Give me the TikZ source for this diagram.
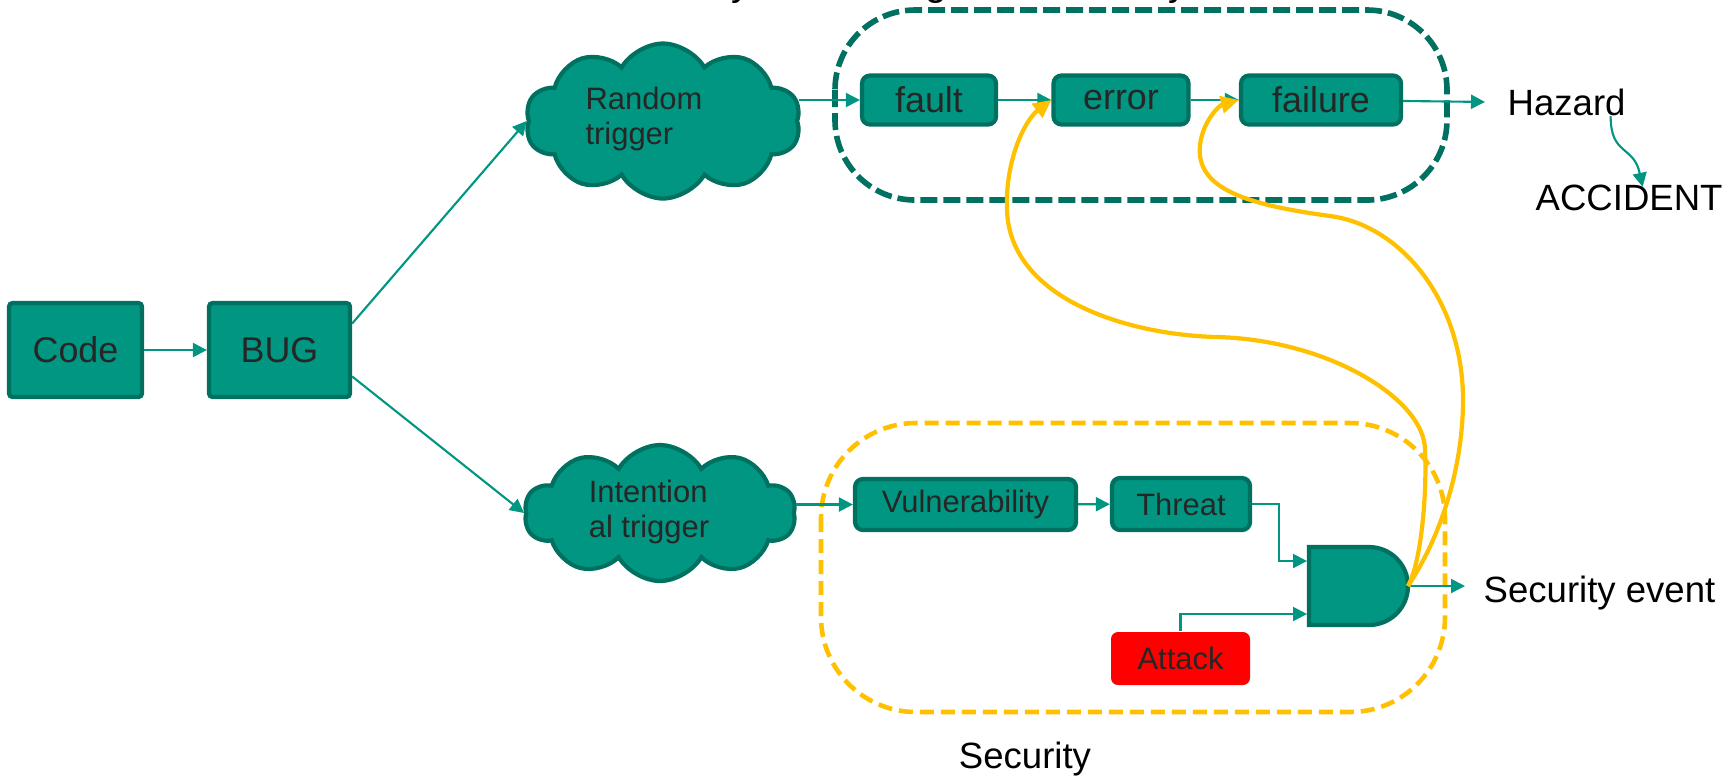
\documentclass[tikz,border=0pt]{standalone}
\usepackage{fontspec}
\setmainfont{Liberation Sans}
\usetikzlibrary{arrows.meta,shapes.symbols,positioning}
\definecolor{tealfill}{RGB}{0,150,130}
\definecolor{tealedge}{RGB}{0,112,96}
\definecolor{boxtext}{RGB}{38,38,38}
\definecolor{amber}{RGB}{255,192,0}
\begin{document}
\begin{tikzpicture}[
    blockbox/.style={draw=tealedge, fill=tealfill, line width=1.2pt, rounded corners=1pt, inner sep=0pt, text=boxtext, font=\fontsize{10.2}{12}\selectfont},
    chainbox/.style={draw=tealedge, fill=tealfill, line width=1.2pt, rounded corners=0.08cm, inner sep=0pt, text=boxtext, font=\fontsize{10.2}{12}\selectfont},
    secbox/.style={draw=tealedge, fill=tealfill, line width=1.2pt, rounded corners=0.08cm, inner sep=0pt, text=boxtext, font=\fontsize{8.8}{10.2}\selectfont},
    attackbox/.style={fill=red, rounded corners=0.07cm, inner sep=0pt, text=boxtext, font=\fontsize{8.8}{10.2}\selectfont, minimum width=1.39cm, minimum height=0.53cm},
    trig/.style={cloud, cloud puffs=10, cloud puff arc=120, cloud ignores aspect, draw=tealedge, fill=tealfill, line width=1.2pt, inner sep=0pt},
    trigtext/.style={align=left, inner sep=0pt, text=boxtext, font=\fontsize{8.8}{10.2}\selectfont},
    lbl/.style={inner sep=0pt, font=\fontsize{10.4}{12.5}\selectfont},
    link/.style={-{Triangle[length=1.4mm,width=1.4mm]}, tealfill, line width=0.6pt},
    cross/.style={-{Triangle[length=1.8mm,width=1.7mm]}, amber, line width=1.2pt},
    safezone/.style={draw=tealedge, line width=1.6pt, dash pattern=on 0.17cm off 0.06cm, rounded corners=0.8cm},
    seczone/.style={draw=amber, line width=1.3pt, dash pattern=on 0.14cm off 0.07cm, rounded corners=0.95cm}
]
    \useasboundingbox (0,0) rectangle (17.32,-7.78);

    % Zones
    \draw[safezone] (8.35,-0.10) rectangle (14.47,-2.00);
    \draw[seczone] (8.21,-4.23) rectangle (14.45,-7.12);
    \node[lbl, anchor=base west, font=\fontsize{11}{13}\selectfont] (safetylbl) at (6.41,0.045) {Safety is covering the Reliability};
    \node[lbl, anchor=base] (seclbl) at (10.25,-7.68) {Security};

    % Nodes
    \draw (0.755,-3.50) node[blockbox, minimum width=1.33cm, minimum height=0.94cm] (code) {Code};
    \draw (2.795,-3.50) node[blockbox, minimum width=1.41cm, minimum height=0.94cm] (bug) {BUG};
    \draw (6.63,-1.21)  node[trig, minimum width=2.75cm, minimum height=1.55cm] (rand) {};
    \draw (6.44,-1.19)  node[trigtext] (randtxt) {Random\\trigger};
    \draw (6.60,-5.13)  node[trig, minimum width=2.71cm, minimum height=1.36cm] (intent) {};
    \draw (6.49,-5.12)  node[trigtext] (intenttxt) {Intention\\al trigger};
    \draw (9.29,-1.00)  node[chainbox, minimum width=1.34cm, minimum height=0.49cm] (fault) {fault};
    \draw (11.21,-1.00) node[chainbox, minimum width=1.35cm, minimum height=0.49cm] (error) {error};
    \draw (13.21,-1.00) node[chainbox, minimum width=1.60cm, minimum height=0.49cm] (failure) {failure};
    \draw (9.655,-5.045) node[secbox, minimum width=2.21cm, minimum height=0.51cm] (vuln) {Vulnerability};
    \draw (11.81,-5.04) node[secbox, minimum width=1.38cm, minimum height=0.52cm] (threat) {Threat};
    \draw (11.805,-6.585) node[attackbox] (attack) {Attack};
    \node[lbl, anchor=base west, inner xsep=0.22cm] (hazard) at (14.85,-1.15) {Hazard};
    \node[lbl, anchor=base west] (accident) at (15.35,-2.10) {ACCIDENT};
    \node[lbl, anchor=base west, inner xsep=0.18cm] (secevent) at (14.65,-6.02) {Security event};

    % AND gate
    \draw[draw=tealedge, fill=tealfill, line width=1.2pt] (13.09,-5.47) -- (13.69,-5.47) arc[start angle=90, end angle=-90, radius=0.39] -- (13.09,-6.25) -- cycle;
    \coordinate (gatein1) at (13.07,-5.61);
    \coordinate (gatein2) at (13.07,-6.14);
    \coordinate (gateout) at (14.08,-5.86);

    % Teal connectors
    \draw[link] (code) -- (bug);
    \draw[link] (bug.20) -- (rand.west);
    \draw[link] (bug.-20) -- (intent.west);
    \draw[link] (rand.east |- fault.west) -- (fault.west);
    \draw[link] (fault) -- (error);
    \draw[link] (error) -- (failure);
    \draw[link] (failure) -- (hazard.west -| hazard.west);
    \draw[link] ([xshift=0.44cm]hazard.south) .. controls +(0,-0.4) and +(-0.09,0.42) .. ([xshift=0.135cm,yshift=-0.03cm]accident.north);
    \draw[link] (intent.east |- vuln.west) -- (vuln.west);
    \draw[link] (vuln) -- (threat);
    \draw[link] (threat.east) -- ++(0.27,0) |- (gatein1);
    \draw[link] (attack.north) |- (gatein2);
    \draw[link] (gateout) -- (gateout -| secevent.west);

    % Yellow cross links
    \draw[cross] (gateout) .. controls (14.22,-5.6) and (14.27,-4.9) .. (14.25,-4.5)
        .. controls (14.25,-4.0) and (13.3,-3.4) .. (12.17,-3.37)
        .. controls (11.3,-3.35) and (10.1,-3.0) .. (10.07,-2.1)
        .. controls (10.05,-1.6) and (10.25,-1.2) .. (error.west);
    \draw[cross] (gateout) .. controls (14.45,-5.3) and (14.63,-4.6) .. (14.63,-4.0)
        .. controls (14.63,-3.0) and (14.0,-2.25) .. (13.3,-2.16)
        .. controls (12.5,-2.05) and (11.95,-1.9) .. (12.0,-1.45)
        .. controls (12.03,-1.2) and (12.2,-1.05) .. (failure.west);
\end{tikzpicture}
\end{document}
